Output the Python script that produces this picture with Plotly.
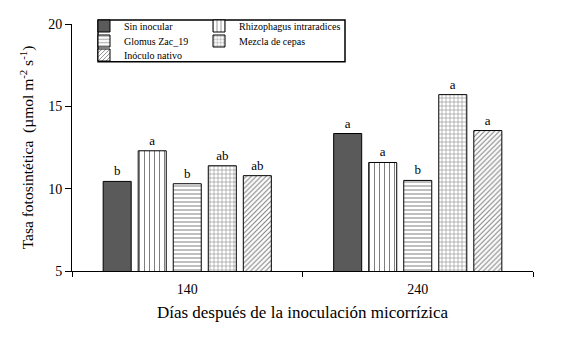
import plotly.graph_objects as go

categories = ["140", "240"]
series_names = ["Sin inocular", "Rhizophagus intraradices", "Glomus Zac_19", "Mezcla de cepas", "Inóculo nativo"]
values = {
    "Sin inocular": [10.44, 13.35],
    "Rhizophagus intraradices": [12.30, 11.59],
    "Glomus Zac_19": [10.30, 10.50],
    "Mezcla de cepas": [11.39, 15.71],
    "Inóculo nativo": [10.79, 13.53],
}
letters = {
    "Sin inocular": ["b", "a"],
    "Rhizophagus intraradices": ["a", "a"],
    "Glomus Zac_19": ["b", "b"],
    "Mezcla de cepas": ["ab", "a"],
    "Inóculo nativo": ["ab", "a"],
}

styles = {
    "Sin inocular": dict(color="#5a5a5a", pattern=dict(shape="")),
    "Rhizophagus intraradices": dict(color="white", pattern=dict(shape="|", fgcolor="black", bgcolor="white", size=5, solidity=0.2)),
    "Glomus Zac_19": dict(color="white", pattern=dict(shape="-", fgcolor="black", bgcolor="white", size=4, solidity=0.25)),
    "Mezcla de cepas": dict(color="white", pattern=dict(shape="+", fgcolor="black", bgcolor="white", size=4, solidity=0.25)),
    "Inóculo nativo": dict(color="white", pattern=dict(shape="/", fgcolor="black", bgcolor="white", size=3.5, solidity=0.3)),
}

W, H = 566, 353
L, R, T, B = 72, 33, 23, 82
pw, ph = W - L - R, H - T - B

def px2x(px):
    return (px - L) / pw

def px2y(py):
    return (H - B - py) / ph

legend_pos = {
    "Sin inocular": (84, 26),
    "Glomus Zac_19": (84, 41),
    "Inóculo nativo": (84, 55),
    "Rhizophagus intraradices": (199, 26),
    "Mezcla de cepas": (199, 41),
}

font = "Liberation Serif"
fig = go.Figure()
layout_legends = {}
for i, name in enumerate(series_names):
    lg = "legend" if i == 0 else f"legend{i+1}"
    st = styles[name]
    fig.add_trace(go.Bar(
        name=name, x=categories, y=values[name],
        marker=dict(color=st["color"], pattern=st["pattern"], line=dict(color="black", width=1)),
        text=letters[name], textposition="outside", cliponaxis=False,
        textfont=dict(family=font, size=13, color="black"),
        legend=lg, showlegend=True,
    ))
    lx, ly = legend_pos[name]
    layout_legends[lg] = dict(
        x=px2x(lx), y=px2y(ly), xanchor="left", yanchor="middle",
        bgcolor="rgba(0,0,0,0)", borderwidth=0,
        font=dict(family=font, size=10, color="black"),
        itemwidth=30,
    )

fig.update_layout(
    width=W, height=H,
    margin=dict(l=L, r=R, t=T, b=B),
    plot_bgcolor="white", paper_bgcolor="white",
    barmode="group", bargap=0.24, bargroupgap=0.2,
    font=dict(family=font, color="black"),
    **layout_legends,
)

fig.update_yaxes(
    range=[5, 20], dtick=5, showgrid=False, zeroline=False,
    showline=True, linecolor="black", linewidth=1,
    ticks="outside", ticklen=6, tickcolor="black",
    tickfont=dict(family=font, size=14),
    title=dict(text="Tasa fotosintética  (µmol m<sup>-2</sup> s<sup>-1</sup>)", font=dict(family=font, size=15.5), standoff=10),
)
fig.update_xaxes(
    showgrid=False, showline=True, linecolor="black", linewidth=1,
    ticks="outside", tickson="boundaries", ticklen=5, tickcolor="black",
    ticklabelstandoff=5,
    tickfont=dict(family=font, size=14),
    title=dict(text="Días después de la inoculación micorrízica", font=dict(family=font, size=17), standoff=10),
)

fig.add_shape(type="rect", xref="paper", yref="paper",
              x0=px2x(98), x1=px2x(345), y0=px2y(61), y1=px2y(19),
              line=dict(color="black", width=1.5), fillcolor="rgba(0,0,0,0)")

fig.write_html("out.html")
